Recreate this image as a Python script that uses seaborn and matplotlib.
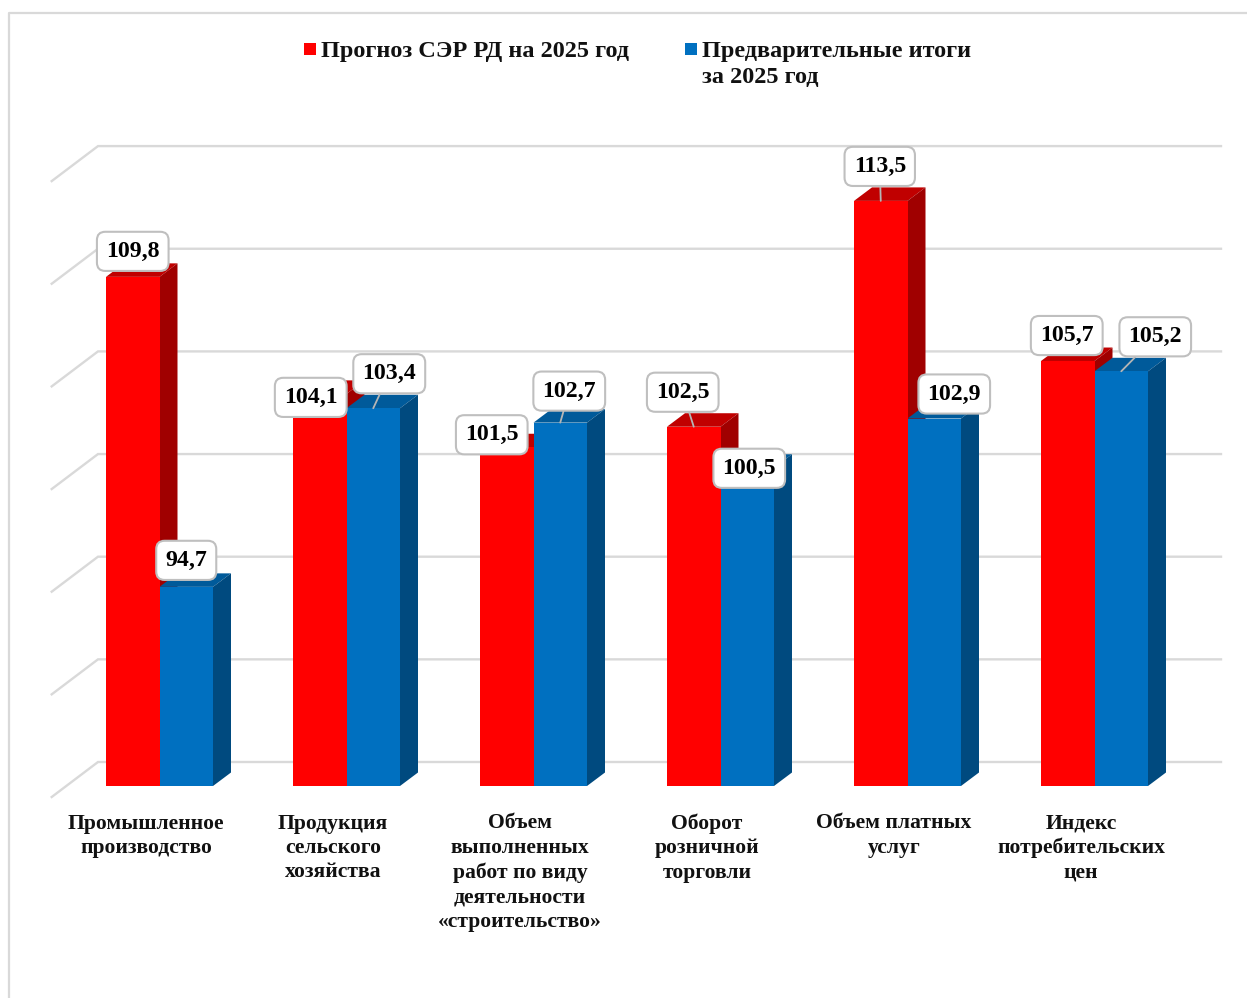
import matplotlib
matplotlib.use("Agg")
import matplotlib.pyplot as plt
import pandas as pd
import seaborn as sns
from matplotlib.patches import Polygon, Rectangle
from matplotlib.transforms import Affine2D

categories = ["Промышленное\nпроизводство", "Продукция\nсельского\nхозяйства",
              "Объем\nвыполненных\nработ по виду\nдеятельности\n«строительство»",
              "Оборот\nрозничной\nторговли", "Объем платных\nуслуг",
              "Индекс\nпотребительских\nцен"]
series_names = ["Прогноз СЭР РД на 2025 год", "Предварительные итоги\nза 2025 год"]
forecast = [109.8, 104.1, 101.5, 102.5, 113.5, 105.7]
actual = [94.7, 103.4, 102.7, 100.5, 102.9, 105.2]
grid_values = [85, 90, 95, 100, 105, 110, 115]
label_offsets_forecast = [(0, 28), (-9, -1), (-15, 15), (-11, 37), (-1, 37), (-1, 28)]
label_offsets_actual = [(0, 29), (16, 37), (9, 34), (2, 2), (20, 27), (34, 37)]

W, H = 1247, 998
FONT = "Liberation Serif"
PX_X, PX_Y = 187.0, 20.53
BASE = grid_values[0]
plt.rcParams["font.family"] = [FONT, "DejaVu Sans"]
plt.rcParams["font.weight"] = "bold"

df = pd.DataFrame({"cat": categories * 2, "series": [series_names[0]] * 6 + [series_names[1]] * 6,
                   "value": forecast + actual})
fig = plt.figure(figsize=(W / 100, H / 100), dpi=100, facecolor="white")
ax = fig.add_axes([0, 0, 1, 1])
sns.barplot(data=df, x="cat", y="value", hue="series", palette=["#ff0000", "#0070c0"],
            width=107 / PX_X, gap=0, legend=False, ax=ax, saturation=1, linewidth=0, zorder=4)
ax.set_xlim((0 - 159.5) / PX_X, (W - 159.5) / PX_X)
ax.set_ylim(BASE + (786 - H) / PX_Y, BASE + 786 / PX_Y)
ax.axis("off")
px = Affine2D().scale(1, -1).translate(0, H)  # top-left pixel coordinates


def ddx(p):
    return p / PX_X


def ddy(p):
    return p / PX_Y


# frame
ax.plot([8.5, 8.5, W], [H, 12.5, 12.5], transform=px, color="#d9d9d9", lw=1.6, zorder=0, clip_on=False)

# 3-D walls: gridlines run from the front floor edge to the back wall
x_front = ax.get_xlim()[0] + ddx(51.7)
x_back = ax.get_xlim()[0] + ddx(98)
x_end = ax.get_xlim()[0] + ddx(1221)
for v in grid_values:
    ax.plot([x_front, x_back, x_end], [v - ddy(11), v + ddy(24), v + ddy(24)],
            color="#d9d9d9", lw=1.7, zorder=1, solid_joinstyle="miter")

# the value axis starts at the first grid value: bars rise from there
bars = [b for b in ax.patches if isinstance(b, Rectangle) and b.get_width() > 0]
for b in bars:
    top = b.get_y() + b.get_height()
    b.set_y(BASE)
    b.set_height(top - BASE)

# 3-D sides and tops of the bars
dep_x, dep_y = ddx(18), ddy(13.5)
shades = [("#c00000", "#a00000"), ("#005a9a", "#004a7f")]
n = len(categories)
for i, b in enumerate(bars):
    top_c, side_c = shades[i // n]
    z = 2 + i // n * 0.5
    x0, x1 = b.get_x(), b.get_x() + b.get_width()
    y0, y1 = b.get_y(), b.get_y() + b.get_height()
    ax.add_patch(Polygon([(x0, y1), (x1, y1), (x1 + dep_x, y1 + dep_y), (x0 + dep_x, y1 + dep_y)],
                         closed=True, fc=top_c, ec="none", zorder=z))
    ax.add_patch(Polygon([(x1, y0), (x1 + dep_x, y0 + dep_y), (x1 + dep_x, y1 + dep_y), (x1, y1)],
                         closed=True, fc=side_c, ec="none", zorder=z))

# value labels: a leader line only where the callout sits well above its bar
offsets = label_offsets_forecast + label_offsets_actual
values = forecast + actual
for i, b in enumerate(bars):
    xc = b.get_x() + b.get_width() / 2
    leader = dict(arrowstyle="-", color="#b5b5b5", lw=1.3, shrinkA=0, shrinkB=0) if offsets[i][1] > 30 else None
    ax.annotate(f"{values[i]:.1f}".replace(".", ","), xy=(xc, values[i]), xytext=offsets[i],
                textcoords="offset pixels", ha="center", va="center_baseline", fontsize=17.2, color="black",
                fontweight="bold", zorder=6,
                bbox=dict(boxstyle="round,pad=0.38,rounding_size=0.35", fc="white", ec="#bfbfbf", lw=1.5),
                arrowprops=leader)

# category labels
for i, c in enumerate(categories):
    ax.text(i - ddx(13.5), BASE - ddy(27.5), c, ha="center", va="top", fontsize=15.6, fontweight="bold",
            color="#111111", linespacing=1.29, zorder=5)

# legend
for (sx, tx, name, col) in [(304, 321, series_names[0], "#ff0000"), (685, 702, series_names[1], "#0070c0")]:
    ax.add_patch(Rectangle((sx, 43), 12, 12, transform=px, fc=col, ec="none", zorder=5))
    ax.text(tx, 41, name, transform=px, ha="left", va="top", fontsize=17.5, fontweight="bold",
            color="#111111", linespacing=1.3, zorder=5)

fig.savefig("out.png", dpi=100, facecolor="white")
